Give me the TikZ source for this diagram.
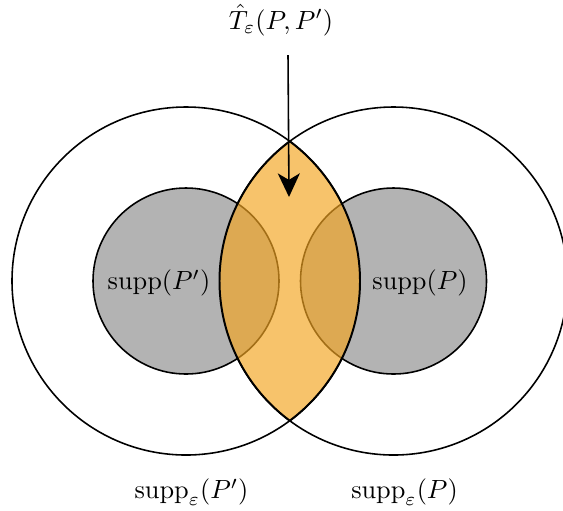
\documentclass[tikz,border=0pt]{standalone}
\usetikzlibrary{arrows.meta}
\definecolor{lensfill}{RGB}{243,165,35}
\definecolor{suppgrey}{RGB}{179,179,179}
\begin{document}
\begin{tikzpicture}[x=0.38pt,y=-0.38pt,
  ring/.style={draw=black,line width=0.6pt},
  suppdisc/.style={draw=black,line width=0.6pt,fill=suppgrey},
  lensedge/.style={draw=black,line width=0.75pt},
  lbl/.style={inner sep=0pt}]
\useasboundingbox (0,0) rectangle (563,510);
\clip (0,0) rectangle (563,510);
\coordinate (cL) at (186,281);
\coordinate (cR) at (393.5,281);
\draw[ring] (cL) circle[radius=174];
\draw[ring] (cR) circle[radius=174];
\draw[suppdisc] (cL) circle[radius=93];
\draw[suppdisc] (cR) circle[radius=93];
\begin{scope}
  \clip (cL) circle[radius=174];
  \fill[lensfill,opacity=0.67] (cR) circle[radius=174];
\end{scope}
\begin{scope}
  \clip (cL) circle[radius=174];
  \draw[lensedge] (cR) circle[radius=174];
\end{scope}
\begin{scope}
  \clip (cR) circle[radius=174];
  \draw[lensedge] (cL) circle[radius=174];
\end{scope}
\node[lbl] (tlabel) at (281,20) {$\hat{T}_\varepsilon(P,P')$};
\node[lbl] (sPp) at (159,283) {$\mathrm{supp}(P')$};
\node[lbl] (sP) at (420,283) {$\mathrm{supp}(P)$};
\node[lbl] (sePp) at (191.5,492) {$\mathrm{supp}_\varepsilon(P')$};
\node[lbl] (seP) at (404.5,492) {$\mathrm{supp}_\varepsilon(P)$};
\coordinate (aS) at (288,55);
\coordinate (aE) at (289,197);
\draw[line width=0.6pt,-{Stealth[length=9pt,width=8.4pt,inset=2.5pt]}] (aS) -- (aE);
\end{tikzpicture}
\end{document}
